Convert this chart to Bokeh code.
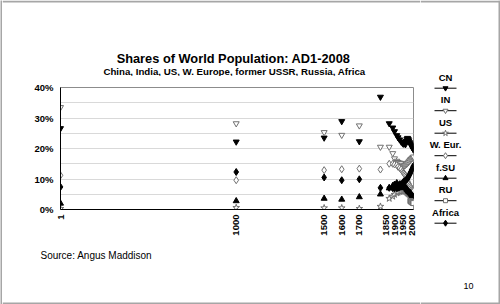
import math
from bokeh.plotting import figure
from bokeh.layouts import row, column
from bokeh.models import FixedTicker, PrintfTickFormatter, Range1d
from bokeh.core.properties import value
from bokeh.embed import file_html
from bokeh.resources import INLINE

nan = float("nan")

# Shares of world population (%), Angus Maddison
years = [1, 1000, 1500, 1600, 1700, 1820, 1870, 1890, 1900, 1913, 1920, 1929, 1938, 1945,
         1950, 1954, 1958, 1962, 1966, 1970, 1974, 1978, 1982, 1986, 1990, 1994, 1998,
         2002, 2005, 2008]

china = [26.6, 22.2, 23.5, 28.9, 22.3, 36.9, 28.2, 26.8, 25.6, 24.3, 23.6, 22.9, 22.2, 21.8,
         21.5, 21.9, 21.7, 21.3, 22.4, 23.0, 23.4, 23.1, 22.6, 22.0, 21.6, 21.1, 20.7,
         20.3, 19.9, 19.6]
india = [33.5, 28.2, 25.3, 24.4, 27.5, 20.5, 20.5, 18.4, 16.7, 15.9, 15.5, 15.3, 15.2, 14.6,
         14.2, 14.3, 14.4, 14.6, 14.8, 15.0, 15.2, 15.4, 15.7, 16.0, 16.3, 16.5, 16.7,
         16.9, 17.1, 17.3]
usa = [0.3, 0.6, 0.5, 0.5, 0.3, 1.0, 3.6, 4.3, 4.9, 5.4, 5.6, 5.9, 5.9, 6.0,
       6.0, 6.1, 6.2, 6.1, 5.9, 5.6, 5.4, 5.2, 5.0, 4.9, 4.8, 4.7, 4.7,
       4.6, 4.6, 4.5]
w_europe = [11.2, 9.6, 12.9, 13.2, 13.4, 13.1, 15.0, 15.0, 14.8, 14.6, 14.0, 13.6, 13.2, 12.5,
            12.1, 11.9, 11.5, 11.1, 10.6, 10.0, 9.4, 8.9, 8.4, 7.9, 7.5, 7.1, 6.7,
            6.4, 6.2, 6.0]
former_ussr = [2.0, 2.8, 3.6, 3.3, 4.1, 5.0, 7.0, 7.8, 8.2, 8.7, 8.0, 8.3, 8.4, 7.4,
               7.1, 7.2, 7.3, 7.2, 7.0, 6.6, 6.3, 6.0, 5.8, 5.6, 5.4, 5.1, 4.8,
               4.5, 4.3, 4.2]
russia = [nan] * 24 + [2.8, 2.6, 2.4, 2.3, 2.2, 2.1]
africa = [7.4, 12.3, 10.5, 9.6, 9.9, 7.1, 7.1, 7.0, 7.0, 7.0, 7.1, 7.3, 7.6, 8.0,
          9.0, 9.1, 9.3, 9.5, 9.7, 9.9, 10.2, 10.6, 11.0, 11.5, 12.0, 12.5, 13.0,
          13.5, 13.9, 14.3]

series_names = ["CN", "IN", "US", "W. Eur.", "f.SU", "RU", "Africa"]
series_values = [china, india, usa, w_europe, former_ussr, russia, africa]

x_ticks = [1, 1000, 1500, 1600, 1700, 1850, 1900, 1950, 2000]
y_ticks = [0, 10, 20, 30, 40]
grid_ticks = [5, 10, 15, 20, 25, 30, 35, 40]

FONT = "Liberation Sans"
EDGE = "#a6a6a6"
OPEN_EDGE = "#707070"

# page geometry (pixels from the top-left corner)
W, H = 500, 304
STRIP = 2
MID_W = 418
LEG_W = W - STRIP - MID_W
TOP_H = 76
CHART_H = 166
BOT_H = H - TOP_H - CHART_H


def panel(width, height, x0, y0):
    """A figure whose frame fills it, addressed in page pixels (y grows downward)."""
    f = figure(width=width, height=height, output_backend="svg", toolbar_location=None,
               x_range=Range1d(x0, x0 + width), y_range=Range1d(y0 + height, y0),
               x_axis_location=None, y_axis_location=None, min_border=0,
               outline_line_color=None, background_fill_color="white",
               border_fill_color="white", frame_align=False)
    f.xgrid.visible = False
    f.ygrid.visible = False
    return f


def txt(f, x, y, s, size, bold=True, align="left", baseline="alphabetic"):
    f.text(x=[x], y=[y], text=[s], text_font=value(FONT), text_font_size=size,
           text_font_style="bold" if bold else "normal", text_align=align,
           text_baseline=baseline, text_color="black")


# left edge strip
strip = figure(width=STRIP, height=H, output_backend="svg", toolbar_location=None,
               x_axis_location=None, y_axis_location=None, min_border=0,
               outline_line_color=None, background_fill_color=EDGE,
               border_fill_color=EDGE, frame_align=False)
strip.xgrid.visible = False
strip.ygrid.visible = False

# heading
top = panel(MID_W, TOP_H, STRIP, 0)
top.quad(left=STRIP, right=STRIP + MID_W, top=0, bottom=2, fill_color=EDGE, line_color=None)
txt(top, 233, 58, "Shares of World Population: AD1-2008", "12.8px", align="center")
txt(top, 234, 71, "China, India, US, W. Europe, former USSR, Russia, Africa", "9.7px",
    align="center")

# chart
p = figure(width=MID_W, height=CHART_H, output_backend="svg", toolbar_location=None,
           x_range=Range1d(1, 2008), y_range=Range1d(0, 40),
           min_border_left=60 - STRIP, min_border_right=STRIP + MID_W - 413,
           min_border_top=87 - TOP_H, min_border_bottom=TOP_H + CHART_H - 209,
           background_fill_color="white", border_fill_color="white",
           outline_line_color="#8c8c8c", frame_align=False)

p.xgrid.visible = False
p.ygrid.ticker = FixedTicker(ticks=grid_ticks)
p.ygrid.grid_line_color = "#d9d9d9"

for ax in (p.xaxis[0], p.yaxis[0]):
    ax.axis_line_color = "black"
    ax.major_tick_in = 0
    ax.major_tick_out = 0
    ax.minor_tick_in = 0
    ax.minor_tick_out = 0
    ax.major_label_text_font = FONT
    ax.major_label_text_font_style = "bold"
    ax.major_label_text_font_size = "9.5px"
    ax.major_label_text_color = "black"

p.yaxis.ticker = FixedTicker(ticks=y_ticks)
p.yaxis.formatter = PrintfTickFormatter(format="%d%%")
p.yaxis.major_label_standoff = 7
p.xaxis.ticker = FixedTicker(ticks=x_ticks)
p.xaxis.major_label_orientation = math.pi / 2
p.xaxis.major_label_standoff = 5

styles = [
    dict(marker="inverted_triangle", fill_color="black", line_color="black", size=6),
    dict(marker="inverted_triangle", fill_color="white", line_color=OPEN_EDGE, size=6),
    dict(marker="star", fill_color="white", line_color=OPEN_EDGE, size=7),
    dict(marker="diamond", fill_color="white", line_color=OPEN_EDGE, size=7),
    dict(marker="triangle", fill_color="black", line_color="black", size=6),
    dict(marker="square", fill_color="white", line_color=OPEN_EDGE, size=5),
    dict(marker="diamond", fill_color="black", line_color="black", size=7),
]

for vals, st in zip(series_values, styles):
    p.scatter(x=years, y=vals, line_width=1, **st)

# source line
bottom = panel(MID_W, BOT_H, STRIP, TOP_H + CHART_H)
bottom.quad(left=STRIP, right=STRIP + MID_W, top=H - 2, bottom=H, fill_color=EDGE,
            line_color=None)
txt(bottom, 40, 255, "Source: Angus Maddison", "10px", bold=False)

# key and page number
leg = panel(LEG_W, H, STRIP + MID_W, 0)
x0 = STRIP + MID_W
leg.quad(left=x0, right=W, top=0, bottom=2, fill_color=EDGE, line_color=None)
leg.quad(left=x0, right=W, top=H - 2, bottom=H, fill_color=EDGE, line_color=None)
leg.quad(left=W - 2, right=W, top=0, bottom=H, fill_color=EDGE, line_color=None)

key_cx = 445
for i, (name, st) in enumerate(zip(series_names, styles)):
    ly = 87.7 + 22.5 * i
    txt(leg, key_cx, ly - 11, name, "9.5px", align="center", baseline="middle")
    leg.segment(x0=[key_cx - 11], y0=[ly], x1=[key_cx + 11], y1=[ly],
                line_color="black", line_width=1)
    kst = dict(st)
    kst["size"] = kst["size"] - 1
    leg.scatter(x=[key_cx], y=[ly], line_width=1, **kst)

txt(leg, 463, 285, "10", "9px", bold=False)

layout = row(strip, column(top, p, bottom), leg)
open("out.html", "w").write(file_html(layout, INLINE))
